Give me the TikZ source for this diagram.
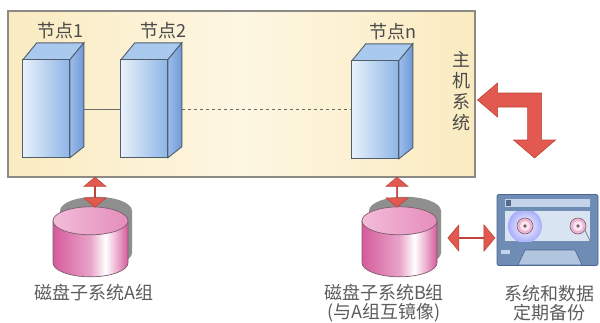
\documentclass[tikz,border=0pt]{standalone}
\usepackage{fontspec}
\setmainfont{Noto Sans CJK SC}
\usetikzlibrary{shapes.arrows,calc}

\definecolor{hostA}{HTML}{FAEBC0}
\definecolor{hostB}{HTML}{FDF6E2}
\definecolor{hostedge}{HTML}{8C8A84}
\definecolor{frontL}{HTML}{E8F1FB}
\definecolor{frontR}{HTML}{8DB5E6}
\definecolor{sideL}{HTML}{9CBDEA}
\definecolor{sideR}{HTML}{6F9AD6}
\definecolor{topC}{HTML}{A9C9EE}
\definecolor{prismedge}{HTML}{505E6C}
\definecolor{diskpink}{HTML}{D65A9C}
\definecolor{disktopL}{HTML}{F3BCD9}
\definecolor{disktopR}{HTML}{E58DBB}
\definecolor{diskedge}{HTML}{7A5E6C}
\definecolor{shadowgray}{HTML}{8F8F8F}
\definecolor{arrowred}{HTML}{E25A4F}
\definecolor{arrowedge}{HTML}{BF433B}
\definecolor{tapebody}{HTML}{6F8CB5}
\definecolor{tapeedge}{HTML}{4A6690}
\definecolor{tapewin}{HTML}{D9E4F3}
\definecolor{tapestrip}{HTML}{C3D3EA}
\definecolor{textgray}{HTML}{4A4A4A}
\definecolor{linkgray}{HTML}{6A6A6A}

\pgfdeclarehorizontalshading{diskbody}{100bp}{color(0bp)=(diskpink); color(25bp)=(diskpink); color(50bp)=(diskpink!55!white); color(60bp)=(white); color(67bp)=(diskpink!45!white); color(75bp)=(diskpink); color(100bp)=(diskpink)}

\tikzset{
  lbl/.style={font=\fontsize{18}{20}\selectfont, text=textgray, inner sep=0pt},
  btm/.style={font=\fontsize{18}{19}\selectfont, text=textgray!90, inner sep=0pt, align=center},
  slot/.style={inner sep=0pt, minimum width=61pt, minimum height=98pt},
  drum/.style={inner sep=0pt, minimum width=75pt, minimum height=70pt},
  linkline/.style={draw=linkgray, line width=0.9pt},
  redarrow/.style={double arrow, fill=arrowred, draw=arrowedge, line width=0.6pt,
    inner sep=0pt, double arrow tip angle=100},
  pics/prism/.style={code={
    \draw[prismedge, line width=0.9pt, fill=topC] (0,0) -- (14,-17) -- (61,-17) -- (47,0) -- cycle;
    \draw[prismedge, line width=0.9pt, left color=sideL, right color=sideR] (47,0) -- (61,-17) -- (61,87) -- (47,98) -- cycle;
    \draw[prismedge, line width=0.9pt, left color=frontL, right color=frontR] (0,0) rectangle (47,98);
  }},
  pics/disk/.style={code={
    \fill[shadowgray] (-30.5,-10) -- (-30.5,32)
      arc[start angle=180, end angle=360, x radius=36pt, y radius=14pt]
      -- (41.5,-10)
      arc[start angle=0, end angle=180, x radius=36pt, y radius=14pt] -- cycle;
    \draw[diskedge, line width=0.7pt, shading=diskbody] (-37.5,0) -- (-37.5,42)
      arc[start angle=180, end angle=360, x radius=37.5pt, y radius=14pt]
      -- (37.5,0) -- cycle;
    \draw[diskedge, line width=0.7pt, left color=disktopL, right color=disktopR]
      (0,0) ellipse[x radius=37.5pt, y radius=14pt];
  }}
}

\begin{document}
\begin{tikzpicture}[x=1pt, y=-1pt]
\useasboundingbox (0,0) rectangle (600,322);

% host system frame
\node[draw=hostedge, line width=1.1pt, left color=hostA, right color=hostA,
      middle color=hostB, inner sep=0pt, minimum width=467pt, minimum height=166pt]
  (host) at (241.5,94) {};

% cluster nodes
\node[slot] (n1) at (53.5,109) {};
\node[slot] (n2) at (151.5,109) {};
\node[slot] (nn) at (382.5,110) {};
\pic at (n1.north west) {prism};
\pic at (n2.north west) {prism};
\pic at (nn.north west) {prism};

\draw[linkline] (n1.east) -- (n2.west);
\draw[linkline, dash pattern=on 3pt off 3pt] (n2.east) -- (n2.east -| nn.west);

\node[lbl] (l1) at (60,31) {节点1};
\node[lbl] (l2) at (163,31) {节点2};
\node[lbl] (ln) at (393,32) {节点n};
\node[lbl, align=center, font=\fontsize{18}{21}\selectfont] (hl) at (461,91) {主\\机\\系\\统};

% disk subsystems
\node[drum] (dA) at (90.5,242) {};
\node[drum] (dB) at (399.5,242) {};
\pic at ($(dA.north)+(0,14)$) {disk};
\pic at ($(dB.north)+(0,14)$) {disk};

\coordinate (aA) at ($(dA.north)+(4.5,0)$);
\coordinate (aB) at ($(dB.north)+(-2.5,0)$);
\node[redarrow, rotate=90, minimum height=30pt, minimum width=22pt,
      double arrow head extend=7pt] (arA) at ($(aA |- host.south)!0.5!(aA)$) {};
\node[redarrow, rotate=90, minimum height=30pt, minimum width=22pt,
      double arrow head extend=7pt] (arB) at ($(aB |- host.south)!0.5!(aB)$) {};

% backup tape
\node[fill=tapebody, draw=tapeedge, line width=0.8pt, rounded corners=2pt,
      inner sep=0pt, minimum width=101pt, minimum height=71pt] (tape) at (547.5,230) {};
\fill[tapestrip] (505,199) rectangle (590,207);
\fill[tapebody!75!black] (506,200) rectangle (511,206);
\fill[tapewin] (505,211) rectangle (590,241);
\begin{scope}
  \clip (505,211) rectangle (590,241);
  \shade[inner color=white, outer color=tapewin!60!blue!70!white] (525,226) circle (17pt);
\end{scope}
\foreach \rx in {525,578}{
  \draw[diskedge, line width=0.6pt, fill=diskpink!45!white] (\rx,226) circle (8pt);
  \fill[diskpink!15!white] (\rx,226) circle (5pt);
  \fill[diskedge] (\rx,226) circle (1.8pt);
}
\draw[linkgray, line width=0.6pt] (585,230) -- (590,241);
\draw[tapeedge, line width=0.6pt, fill=tapestrip!80!tapebody] (525,250) -- (575,250) -- (582,265) -- (518,265) -- cycle;
\fill[tapestrip] (501,250) rectangle (510,254);

\node[redarrow, minimum height=47pt, minimum width=26pt, double arrow head extend=8pt]
  (arT) at ($(dB.east)!0.5!(tape.west)+(4.5,2)$) {};

% host backup arrow
\coordinate (bk) at ($(host.east)+(2,6)$);
\draw[fill=arrowred, draw=arrowedge, line width=0.6pt, line join=miter]
  (bk) -- ++(20,-17) -- ++(0,10) -- ++(44,0) -- ++(0,47) -- ++(14,0)
  -- ++(-21,18) -- ++(-21,-18) -- ++(14,0) -- ++(0,-33) -- ++(-30,0)
  -- ++(0,10) -- cycle;

% captions
\node[btm] (tA) at (94,293) {磁盘子系统A组};
\node[btm] (tB) at (384,303) {磁盘子系统B组\\(与A组互镜像)};
\node[btm] (tT) at (549,303) {系统和数据\\定期备份};
\end{tikzpicture}
\end{document}
